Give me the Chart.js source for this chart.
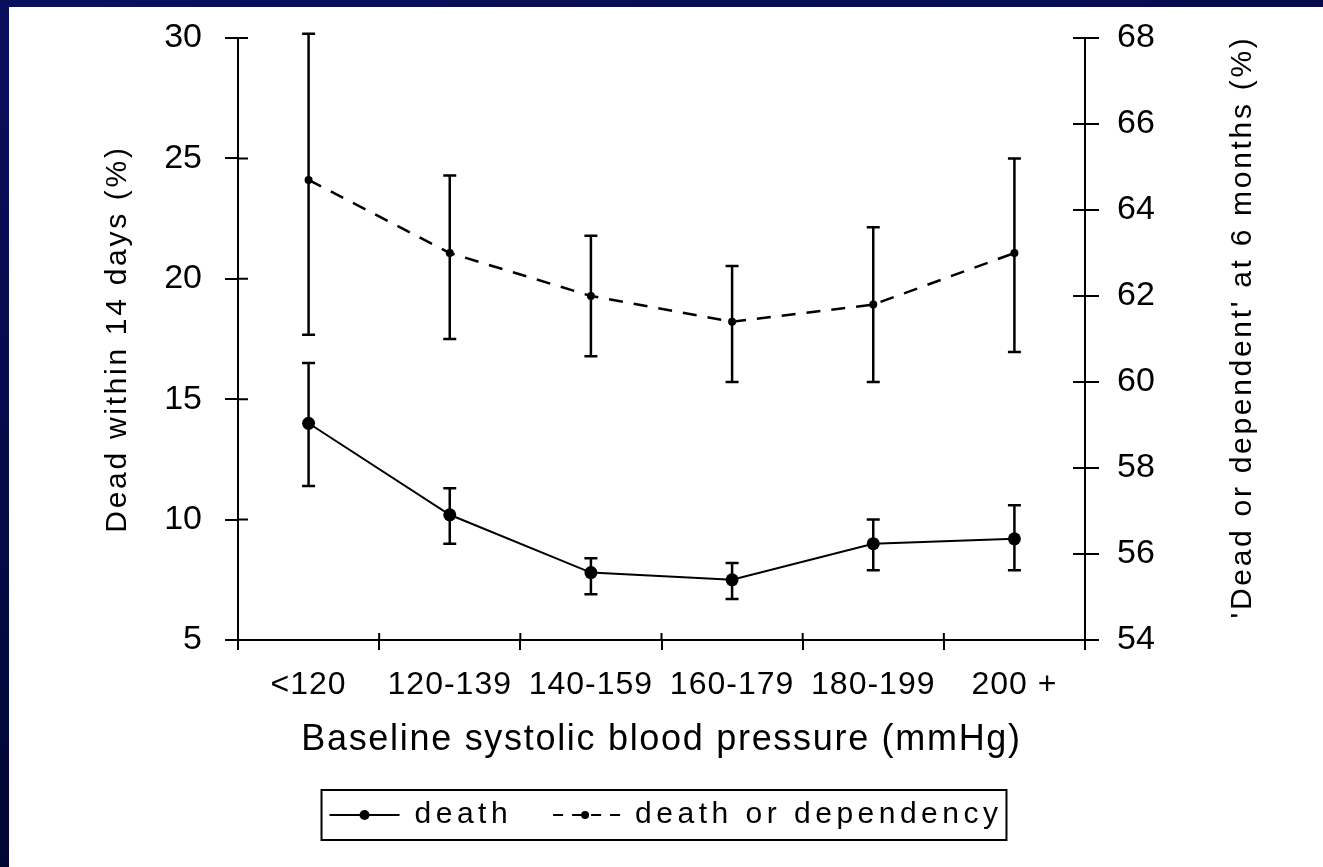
<!DOCTYPE html>
<html>
<head>
<meta charset="utf-8">
<script src="https://cdn.jsdelivr.net/npm/chart.js@4.4.1/dist/chart.umd.min.js"></script>
<style>
  html, body { margin: 0; padding: 0; width: 1323px; height: 867px; overflow: hidden; }
  body { position: relative; background: linear-gradient(165deg, #0a0f5c 0%, #030a45 45%, #00021c 100%); }
  #panel { position: absolute; left: 9px; top: 7px; width: 1314px; height: 860px; background: #fff; }
  #chart { display: block; }
</style>
</head>
<body>
<div id="panel"><canvas id="chart" width="1314" height="860"></canvas></div>
<script>
// categories and values
const categories = ['<120', '120-139', '140-159', '160-179', '180-199', '200 +'];
const death = [14.0, 10.2, 7.8, 7.5, 9.0, 9.2];
const deathLow = [11.4, 9.0, 6.9, 6.7, 7.9, 7.9];
const deathHigh = [16.5, 11.3, 8.4, 8.2, 10.0, 10.6];
const dependency = [64.7, 63.0, 62.0, 61.4, 61.8, 63.0];
const dependencyLow = [61.1, 61.0, 60.6, 60.0, 60.0, 60.7];
const dependencyHigh = [68.1, 64.8, 63.4, 62.7, 63.6, 65.2];
const leftTicks = [5, 10, 15, 20, 25, 30];
const rightTicks = [54, 56, 58, 60, 62, 64, 66, 68];

const FONT = "'Liberation Sans', Arial, sans-serif";

// canvas letterSpacing wrapper, the scanned figure has wide type
function spaced(obj, name, px, pre) {
    const orig = obj[name];
    obj[name] = function (...args) {
        const ctx = this.ctx;
        ctx.save();
        ctx.letterSpacing = px + 'px';
        if (pre) pre.call(this, ctx);
        const out = orig.apply(this, args);
        ctx.restore();
        return out;
    };
}

function patchScale(scale, labelPx, titlePx, pre) {
    if (scale._spaced) return;
    scale._spaced = true;
    spaced(scale, 'drawLabels', labelPx);
    spaced(scale, 'drawTitle', titlePx, pre);
}

const errorBars = {
    id: 'errorBars',
    afterDatasetsDraw(chart) {
        const { ctx } = chart;
        const x = chart.scales.x;
        const sets = [
            { lo: deathLow, hi: deathHigh, y: chart.scales.y },
            { lo: dependencyLow, hi: dependencyHigh, y: chart.scales.y2 }
        ];
        ctx.save();
        ctx.strokeStyle = '#000';
        ctx.lineWidth = 2.5;
        sets.forEach(s => {
            s.lo.forEach((lo, i) => {
                const px = x.getPixelForValue(i);
                const y1 = s.y.getPixelForValue(lo);
                const y2 = s.y.getPixelForValue(s.hi[i]);
                ctx.beginPath();
                ctx.moveTo(px, y1); ctx.lineTo(px, y2);
                ctx.moveTo(px - 6.5, y1); ctx.lineTo(px + 6.5, y1);
                ctx.moveTo(px - 6.5, y2); ctx.lineTo(px + 6.5, y2);
                ctx.stroke();
            });
        });
        ctx.restore();
    }
};

// ticks of the figure cross the axes, chart.js only draws the outer half
const innerTicks = {
    id: 'innerTicks',
    afterDraw(chart) {
        const { ctx, chartArea } = chart;
        const x = chart.scales.x, yl = chart.scales.y, yr = chart.scales.y2;
        ctx.save();
        ctx.strokeStyle = '#000';
        ctx.lineWidth = 2;
        ctx.beginPath();
        const w = x.getPixelForTick(1) - x.getPixelForTick(0);
        for (let i = 0; i <= categories.length; i++) {
            const px = x.getPixelForTick(0) - w / 2 + i * w;
            ctx.moveTo(px, chartArea.bottom); ctx.lineTo(px, chartArea.bottom - 7);
        }
        yl.ticks.forEach(t => {
            const py = yl.getPixelForValue(t.value);
            ctx.moveTo(chartArea.left, py); ctx.lineTo(chartArea.left + 10, py);
        });
        yr.ticks.forEach(t => {
            const py = yr.getPixelForValue(t.value);
            ctx.moveTo(chartArea.right, py); ctx.lineTo(chartArea.right - 12, py);
        });
        ctx.stroke();
        ctx.restore();
    }
};

// frame round the legend plus the line-and-dot samples
const legendFrame = {
    id: 'legendFrame',
    beforeUpdate(chart) {
        const lg = chart.legend;
        if (lg && !lg._spaced) {
            lg._spaced = true;
            spaced(lg, 'fit', 4.5);
            spaced(lg, 'draw', 4.5);
        }
    },
    afterDraw(chart) {
        const lg = chart.legend;
        const hb = lg.legendHitBoxes;
        if (!hb || !hb.length) return;
        const { ctx } = chart;
        const boxW = lg.options.labels.pointStyleWidth;
        const last = hb[hb.length - 1];
        const left = hb[0].left - 8;
        const right = last.left + last.width + 4;
        const cy = hb[0].top + hb[0].height / 2;
        ctx.save();
        ctx.strokeStyle = '#000';
        ctx.fillStyle = '#000';
        ctx.lineWidth = 2;
        ctx.strokeRect(left, cy - 25, right - left, 50);
        hb.forEach((b, i) => {
            const ds = chart.data.datasets[i];
            ctx.setLineDash(ds.borderDash ? [10, 9] : []);
            ctx.beginPath();
            ctx.moveTo(b.left + boxW, cy);
            ctx.lineTo(b.left, cy);
            ctx.stroke();
            ctx.setLineDash([]);
            ctx.beginPath();
            ctx.arc(b.left + boxW / 2, cy, i === 0 ? 5 : 4, 0, Math.PI * 2);
            ctx.fill();
        });
        ctx.restore();
    }
};

const axisFont = size => ({ family: FONT, size: size });

new Chart(document.getElementById('chart'), {
    type: 'line',
    data: {
        labels: categories,
        datasets: [
            {
                label: 'death',
                data: death,
                yAxisID: 'y',
                borderColor: '#000',
                backgroundColor: '#000',
                borderWidth: 2,
                pointRadius: 6.5,
                pointBorderWidth: 0,
                pointBackgroundColor: '#000',
                tension: 0
            },
            {
                label: 'death or dependency',
                data: dependency,
                yAxisID: 'y2',
                borderColor: '#000',
                backgroundColor: '#000',
                borderWidth: 2.5,
                borderDash: [14, 11],
                pointRadius: 4,
                pointBorderWidth: 0,
                pointBackgroundColor: '#000',
                tension: 0
            }
        ]
    },
    options: {
        responsive: false,
        animation: false,
        devicePixelRatio: 1,
        layout: { padding: { left: 0, right: 0, top: 31, bottom: 27 } },
        plugins: {
            tooltip: { enabled: false },
            legend: {
                position: 'bottom',
                labels: {
                    color: '#000',
                    font: axisFont(30),
                    usePointStyle: true,
                    pointStyle: 'line',
                    pointStyleWidth: 70,
                    padding: 38
                }
            }
        },
        scales: {
            x: {
                offset: true,
                grid: { offset: true, drawOnChartArea: false, color: '#000', lineWidth: 2, tickLength: 10 },
                border: { color: '#000', width: 2 },
                ticks: { color: '#000', font: axisFont(32), padding: 16, maxRotation: 0, autoSkip: false },
                title: { display: true, text: 'Baseline systolic blood pressure (mmHg)', color: '#000', font: axisFont(36), padding: { top: 0, bottom: 0 } },
                afterFit(scale) {
                    scale.height = 122;
                    patchScale(scale, 1, 1.7);
                }
            },
            y: {
                position: 'left',
                min: leftTicks[0],
                max: leftTicks[leftTicks.length - 1],
                afterBuildTicks(scale) { scale.ticks = leftTicks.map(v => ({ value: v })); },
                grid: { drawOnChartArea: false, color: '#000', lineWidth: 2, tickLength: 13 },
                border: { color: '#000', width: 2 },
                ticks: { color: '#000', font: axisFont(34), padding: 23 },
                title: { display: true, text: 'Dead within 14 days (%)', color: '#000', font: axisFont(30), padding: { top: 91, bottom: 0 } },
                afterFit(scale) {
                    scale.width = 229;
                    scale.paddingTop = 0;
                    scale.paddingBottom = 0;
                    patchScale(scale, 0, 2.7);
                }
            },
            y2: {
                position: 'right',
                min: rightTicks[0],
                max: rightTicks[rightTicks.length - 1],
                afterBuildTicks(scale) { scale.ticks = rightTicks.map(v => ({ value: v })); },
                grid: { drawOnChartArea: false, color: '#000', lineWidth: 2, tickLength: 14 },
                border: { color: '#000', width: 2 },
                ticks: { color: '#000', font: axisFont(34), padding: 18 },
                title: { display: true, text: "'Dead or dependent' at 6 months (%)", color: '#000', font: axisFont(30), padding: { top: 62, bottom: 0 } },
                afterFit(scale) {
                    scale.width = 238;
                    scale.paddingTop = 0;
                    scale.paddingBottom = 0;
                    // flip the title so it reads bottom to top like the figure
                    patchScale(scale, 0, 2.7, function (ctx) {
                        const cx = this.right - (30 * 1.2 / 2 + 62);
                        const cy = (this.top + this.bottom) / 2 - 6;
                        ctx.translate(cx, cy);
                        ctx.rotate(Math.PI);
                        ctx.translate(-cx, -cy);
                    });
                }
            }
        }
    },
    plugins: [errorBars, innerTicks, legendFrame]
});
</script>
</body>
</html>
